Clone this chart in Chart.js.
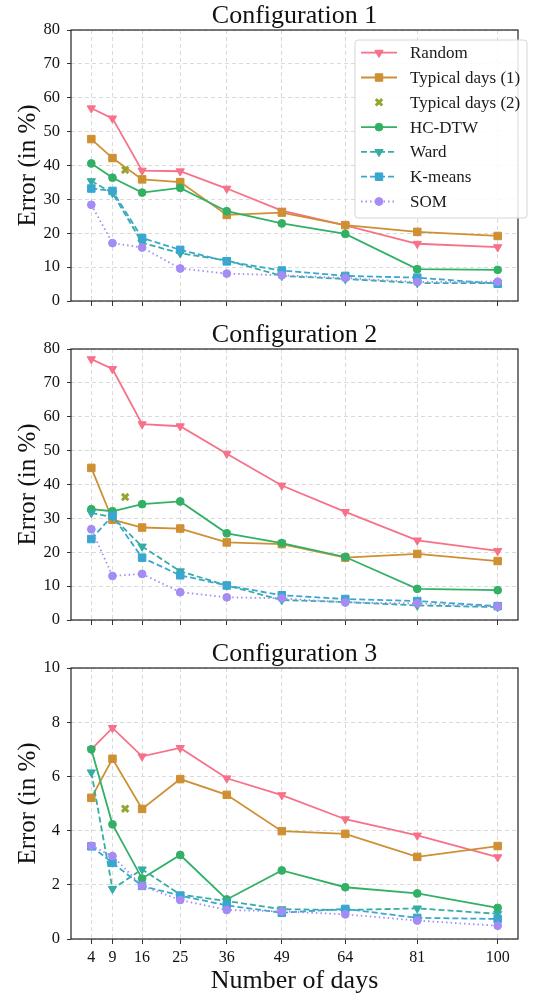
<!DOCTYPE html>
<html>
<head>
<meta charset="utf-8">
<script src="https://cdn.jsdelivr.net/npm/chart.js@4"></script>
<style>
  body { margin: 0; background: #fff; width: 541px; height: 994px; position: relative; overflow: hidden; }
  canvas { position: absolute; left: 0; }
</style>
</head>
<body>
<canvas id="c1" width="541" height="320" style="top:0px"></canvas>
<canvas id="c2" width="541" height="320" style="top:319px"></canvas>
<canvas id="c3" width="541" height="356" style="top:638px"></canvas>
<script>
const days = [4, 9, 16, 25, 36, 49, 64, 81, 100];
const typical2Day = 12;

// Configuration 1
const random1  = [56.9, 53.9, 38.5, 38.3, 33.2, 26.7, 22.3, 16.9, 15.9];
const typical1_1 = [47.8, 42.2, 35.9, 35.1, 25.4, 26.1, 22.4, 20.4, 19.2];
const typical2_1 = 38.7;
const hcdtw1   = [40.6, 36.4, 32.0, 33.4, 26.5, 22.9, 19.8, 9.4, 9.2];
const ward1    = [35.4, 31.9, 17.2, 14.1, 12.0, 7.4, 6.5, 5.3, 5.3];
const kmeans1  = [33.2, 32.5, 18.6, 15.1, 11.7, 9.0, 7.4, 6.9, 5.1];
const som1     = [28.4, 17.1, 15.8, 9.6, 8.1, 7.6, 6.8, 5.6, 5.7];

// Configuration 2
const random2  = [77.0, 74.1, 57.8, 57.2, 49.1, 39.7, 31.9, 23.5, 20.4];
const typical1_2 = [44.9, 29.6, 27.3, 27.0, 22.9, 22.4, 18.4, 19.5, 17.4];
const typical2_2 = 36.3;
const hcdtw2   = [32.7, 32.1, 34.2, 35.0, 25.6, 22.7, 18.6, 9.2, 8.8];
const ward2    = [31.6, 30.4, 21.7, 14.4, 10.2, 5.9, 5.3, 4.3, 3.8];
const kmeans2  = [23.9, 30.8, 18.4, 13.2, 10.2, 7.3, 6.2, 5.6, 4.1];
const som2     = [26.8, 13.0, 13.6, 8.2, 6.7, 6.4, 5.2, 4.9, 4.0];

// Configuration 3
const random3  = [7.0, 7.79, 6.74, 7.05, 5.93, 5.31, 4.42, 3.82, 3.02];
const typical1_3 = [5.21, 6.65, 4.80, 5.90, 5.32, 3.98, 3.88, 3.03, 3.43];
const typical2_3 = 4.81;
const hcdtw3   = [7.0, 4.23, 2.23, 3.10, 1.46, 2.53, 1.91, 1.68, 1.15];
const ward3    = [6.15, 1.85, 2.57, 1.64, 1.40, 1.10, 1.07, 1.13, 0.93];
const kmeans3  = [3.42, 2.81, 1.96, 1.60, 1.24, 0.97, 1.11, 0.78, 0.74];
const som3     = [3.44, 3.06, 1.96, 1.44, 1.07, 1.02, 0.91, 0.68, 0.49];

const yTicks12 = [0, 10, 20, 30, 40, 50, 60, 70, 80];
const yTicks3 = [0, 2, 4, 6, 8, 10];

const FONT = "'Liberation Serif', 'DejaVu Serif', serif";
const series = [
  { label: 'Random',           color: '#f77189', style: 'triangle', rot: 180, r: 4.8, dash: [] },
  { label: 'Typical days (1)', color: '#ce9032', style: 'rect',     rot: 0,   r: 5.3, dash: [] },
  { label: 'Typical days (2)', color: '#97a431', style: 'crossRot', rot: 0,   r: 4.5, dash: [], noLine: true },
  { label: 'HC-DTW',           color: '#32b166', style: 'circle',   rot: 0,   r: 3.9, dash: [] },
  { label: 'Ward',             color: '#36ada4', style: 'triangle', rot: 180, r: 4.8, dash: [6, 3] },
  { label: 'K-means',          color: '#39a7d0', style: 'rect',     rot: 0,   r: 5.3, dash: [6, 3] },
  { label: 'SOM',              color: '#a48cf4', style: 'circle',   rot: 0,   r: 3.9, dash: [1.5, 3] },
];

const pts = arr => arr.map((v, i) => ({ x: days[i], y: v }));

function buildDatasets(vals) {
  return series.map((s, i) => ({
    label: s.label,
    data: s.noLine ? [{ x: typical2Day, y: vals[i] }] : pts(vals[i]),
    showLine: !s.noLine,
    borderColor: s.color,
    backgroundColor: s.color,
    borderWidth: 1.8,
    borderDash: s.dash,
    pointStyle: s.style,
    pointRotation: s.rot,
    pointRadius: s.r,
    pointBackgroundColor: s.color,
    pointBorderColor: s.color,
    pointBorderWidth: s.noLine ? 3 : 1,
    tension: 0,
    order: series.length - i,
  }));
}

const boxPlugin = {
  id: 'box',
  afterDraw(chart) {
    const a = chart.chartArea, ctx = chart.ctx;
    ctx.save();
    ctx.strokeStyle = '#222';
    ctx.lineWidth = 1.2;
    ctx.strokeRect(a.left, a.top, a.right - a.left, a.bottom - a.top);
    ctx.restore();
  }
};

const legendPlugin = {
  id: 'boxLegend',
  afterDraw(chart, args, opts) {
    if (!opts.show) return;
    const ctx = chart.ctx;
    ctx.save();
    ctx.fillStyle = 'rgba(255,255,255,0.85)';
    ctx.strokeStyle = '#d6d6d6';
    ctx.lineWidth = 1;
    ctx.beginPath();
    ctx.roundRect(355, 40, 172, 178, 3);
    ctx.fill();
    ctx.stroke();
    series.forEach((s, i) => {
      const y = 52.7 + i * 24.8;
      ctx.strokeStyle = s.color;
      ctx.fillStyle = s.color;
      if (!s.noLine) {
        ctx.lineWidth = 1.8;
        ctx.setLineDash(s.dash);
        ctx.beginPath();
        ctx.moveTo(361, y);
        ctx.lineTo(397, y);
        ctx.stroke();
      }
      ctx.setLineDash([]);
      ctx.lineWidth = s.noLine ? 3 : 1;
      Chart.helpers.drawPoint(ctx, { pointStyle: s.style, rotation: s.rot, radius: s.r, borderWidth: ctx.lineWidth }, 379, y);
      ctx.fillStyle = '#1a1a1a';
      ctx.font = '17px ' + FONT;
      ctx.textBaseline = 'middle';
      ctx.fillText(s.label, 410, y + 1);
    });
    ctx.restore();
  }
};

function makeChart(id, title, vals, yTicks, opts) {
  new Chart(document.getElementById(id), {
    type: 'line',
    data: { datasets: buildDatasets(vals) },
    plugins: [boxPlugin, legendPlugin],
    options: {
      responsive: false,
      animation: false,
      layout: { padding: { left: 0, right: 23, top: 0, bottom: 0 } },
      plugins: {
        legend: { display: false },
        tooltip: { enabled: false },
        title: {
          display: true, text: title, fullSize: false, color: '#111',
          font: { family: FONT, size: 26, weight: 'normal', lineHeight: 0.95 },
          padding: { top: 4, bottom: 1.3 }
        },
        boxLegend: { show: opts.legend }
      },
      scales: {
        x: {
          type: 'linear', min: -0.8, max: 104.8,
          afterBuildTicks: s => { s.ticks = days.map(v => ({ value: v })); },
          afterFit: s => { s.height = opts.xHeight; },
          grid: { color: '#dadada', lineWidth: 1, tickLength: 5, tickColor: '#333', tickBorderDash: [] },
          border: { display: false, dash: [4, 3] },
          ticks: {
            display: opts.xLabels, autoSkip: false, maxRotation: 0, padding: 4,
            color: '#111', font: { family: FONT, size: 16 }
          },
          title: {
            display: opts.xLabels, text: 'Number of days', color: '#111',
            font: { family: FONT, size: 26, lineHeight: 1.0 }, padding: 0
          }
        },
        y: {
          min: yTicks[0], max: yTicks[yTicks.length - 1],
          afterBuildTicks: s => { s.ticks = yTicks.map(v => ({ value: v })); },
          afterFit: s => { s.width = 71; },
          grid: { color: '#dadada', lineWidth: 1, tickLength: 4, tickColor: '#333', tickBorderDash: [] },
          border: { display: false, dash: [4, 3] },
          ticks: { padding: 7, color: '#111', font: { family: FONT, size: 16.5 } },
          title: {
            display: true, text: 'Error (in %)', color: '#111',
            font: { family: FONT, size: 25, lineHeight: 1.2 }, padding: { top: 13, bottom: 0 }
          }
        }
      }
    }
  });
}

makeChart('c1', 'Configuration 1',
  [random1, typical1_1, typical2_1, hcdtw1, ward1, kmeans1, som1], yTicks12,
  { legend: true, xLabels: false, xHeight: 19 });
makeChart('c2', 'Configuration 2',
  [random2, typical1_2, typical2_2, hcdtw2, ward2, kmeans2, som2], yTicks12,
  { legend: false, xLabels: false, xHeight: 19 });
makeChart('c3', 'Configuration 3',
  [random3, typical1_3, typical2_3, hcdtw3, ward3, kmeans3, som3], yTicks3,
  { legend: false, xLabels: true, xHeight: 55 });
</script>
</body>
</html>
